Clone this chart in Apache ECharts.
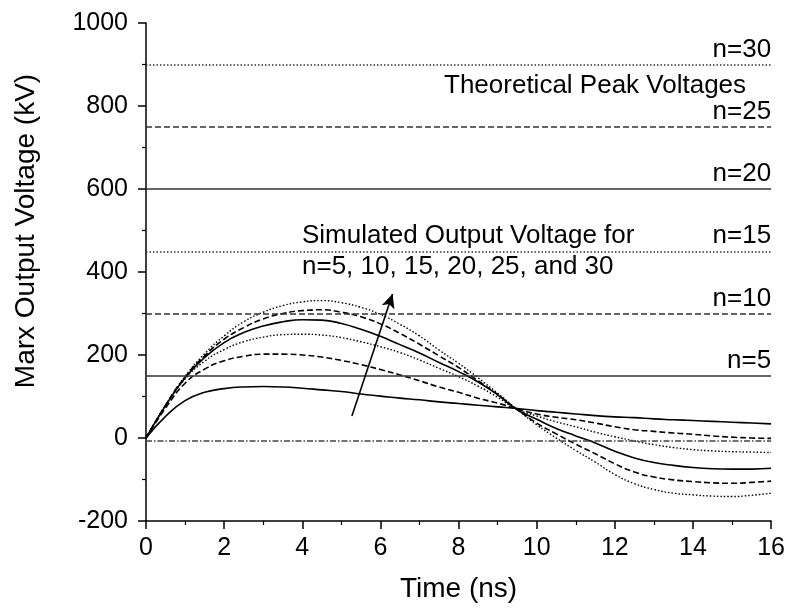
<!DOCTYPE html>
<html>
<head>
<meta charset="utf-8">
<script src="https://cdn.jsdelivr.net/npm/echarts@6/dist/echarts.min.js"></script>
<style>
html,body{margin:0;padding:0;background:#fff;}
#chart{width:788px;height:613px;}
</style>
</head>
<body>
<div id="chart"></div>
<script>
// Time axis samples (ns)
const times = [0,0.5,1,1.5,2,2.5,3,3.5,4,4.5,5,5.5,6,6.5,7,7.5,8,8.5,9,9.5,10,10.5,11,11.5,12,12.5,13,13.5,14,14.5,15,15.5,16];
// Simulated Marx output voltage (kV)
const v_n5  = [0,52,90,110,119,123,124,123,120,116,112,106,101,96,92,87,83,79,75,71,66,62,58,54,51,49,46,44,42,40,38,36,34];
const v_n10 = [0,72,132,166,186,197,202,202,200,195,187,177,165,152,138,123,110,96,84,70,58,50,44,36,27,20,16,12,9,5,2,0,-1];
const v_n15 = [0,78,142,185,213,232,243,249,250,248,242,232,220,206,188,168,148,125,98,69,53,39,27,14,3,-7,-16,-23,-28,-31,-33,-34,-35];
const v_n20 = [0,78,145,194,230,254,270,280,285,284,276,262,245,225,205,182,160,135,104,68,45,23,5,-12,-32,-48,-59,-66,-71,-74,-75,-75,-73];
const v_n25 = [0,79,147,198,238,266,287,300,307,309,303,292,275,252,226,198,170,138,105,69,36,10,-15,-38,-62,-82,-94,-101,-105,-108,-109,-107,-104];
const v_n30 = [0,79,148,203,246,280,303,319,328,331,326,315,298,274,246,212,180,145,108,69,32,0,-30,-58,-88,-110,-124,-133,-137,-140,-141,-138,-133];
// Theoretical peak voltages (kV)
const peakLabels = ['n=30','n=25','n=20','n=15','n=10','n=5'];
const peakValues = [900,750,600,450,300,150];
const baselineValue = -7;
// Arrow annotation (data coords)
const arrowFrom = [5.27,53];
const arrowTo = [6.31,347];

const FONT = 'Liberation Sans, Arial, sans-serif';
const FS = 25;
const FA = 26;
const FT = 28;

const dashed = [6,3];
const dotted = [1.5,2];
const peakStyles = ['dotted','dashed','solid','dotted','dashed','solid'];
function dashOf(s){ return s==='dotted'?dotted:(s==='dashed'?dashed:'solid'); }

const curves = [
  {name:'n=5', v:v_n5, s:'solid'},
  {name:'n=10', v:v_n10, s:'dashed'},
  {name:'n=15', v:v_n15, s:'dotted'},
  {name:'n=20', v:v_n20, s:'solid'},
  {name:'n=25', v:v_n25, s:'dashed'},
  {name:'n=30', v:v_n30, s:'dotted'}
];

const series = curves.map(c => ({
  type:'line', name:c.name, smooth:true, showSymbol:false, z:3,
  data: times.map((t,i)=>[t,c.v[i]]),
  lineStyle:{color:'#000', width:c.s==='dotted'?1.4:1.6, type:dashOf(c.s)}
}));

const mlData = peakValues.map((v,i)=>({
  yAxis:v,
  lineStyle:{color:'#333', width:1.5, type:dashOf(peakStyles[i])},
  label:{show:true, formatter:peakLabels[i], position:'insideEndTop', distance:[0,2],
         color:'#000', fontSize:FA, fontFamily:FONT}
}));
mlData.push({yAxis:baselineValue, lineStyle:{color:'#444', width:1.5, type:[6,2,1.5,2]}, label:{show:false}});

series.push({
  type:'line', data:[], silent:true,
  markLine:{symbol:['none','none'], silent:true, animation:false, data:mlData}
});
series.push({
  type:'line', data:[], silent:true,
  markLine:{symbol:['none','arrow'], symbolSize:[10,14], silent:true, animation:false,
    lineStyle:{color:'#000', width:1.6, type:'solid'}, label:{show:false},
    data:[[{coord:arrowFrom},{coord:arrowTo}]]}
});

const chart = echarts.init(document.getElementById('chart'), null, {renderer:'canvas'});
chart.setOption({
  animation:false,
  backgroundColor:'#fff',
  grid:{left:146, right:15, top:23, bottom:92, containLabel:false},
  xAxis:{
    type:'value', min:0, max:16, interval:2,
    name:'Time (ns)', nameLocation:'middle', nameGap:54,
    nameTextStyle:{fontSize:FT, fontFamily:FONT, color:'#000'},
    axisLine:{show:true, onZero:false, lineStyle:{color:'#000', width:1.5}},
    axisTick:{show:true, length:8, lineStyle:{color:'#000', width:1.5}},
    minorTick:{show:true, splitNumber:2, length:4, lineStyle:{color:'#000', width:1.2}},
    axisLabel:{fontSize:FS, fontFamily:FONT, color:'#000', margin:15, formatter:v=>String(v)},
    splitLine:{show:false}
  },
  yAxis:{
    type:'value', min:-200, max:1000, interval:200,
    axisLine:{show:true, onZero:false, lineStyle:{color:'#000', width:1.5}},
    axisTick:{show:true, length:8, lineStyle:{color:'#000', width:1.5}},
    minorTick:{show:true, splitNumber:2, length:4, lineStyle:{color:'#000', width:1.2}},
    axisLabel:{fontSize:FS, fontFamily:FONT, color:'#000', margin:18, formatter:v=>String(v)},
    splitLine:{show:false}
  },
  graphic:[
    {type:'text', x:26, y:231, rotation:Math.PI/2,
     style:{text:'Marx Output Voltage (kV)', fontSize:FT, fontFamily:FONT, fill:'#000', align:'center', verticalAlign:'middle'}},
    {type:'text', left:444, top:73, style:{text:'Theoretical Peak Voltages', fontSize:FA, fontFamily:FONT, fill:'#000'}},
    {type:'text', left:302, top:223, style:{text:'Simulated Output Voltage for', fontSize:FA, fontFamily:FONT, fill:'#000'}},
    {type:'text', left:302, top:254, style:{text:'n=5, 10, 15, 20, 25, and 30', fontSize:FA, fontFamily:FONT, fill:'#000'}}
  ],
  series:series
});
</script>
</body>
</html>
